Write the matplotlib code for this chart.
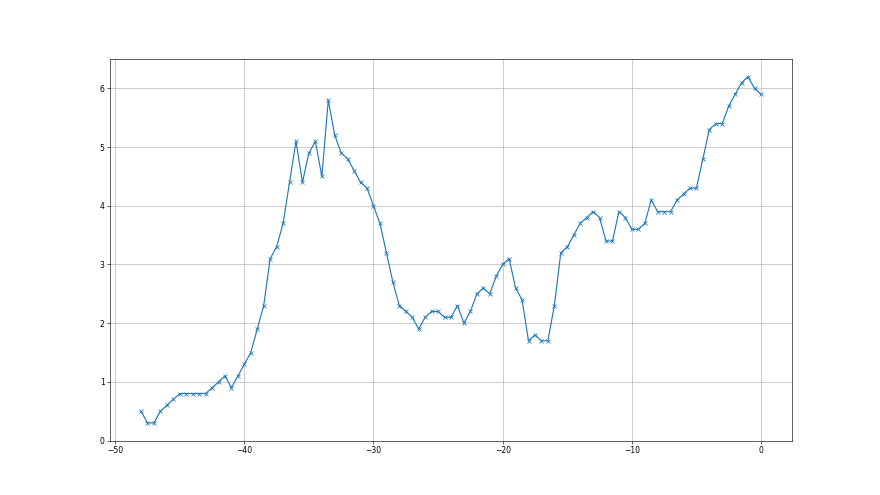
import numpy as np
import matplotlib
matplotlib.use("Agg")
import matplotlib.pyplot as plt

# x positions: -48 to 0 in steps of 0.5
x = np.arange(-48, 0.5, 0.5)

y = [
    0.5, 0.3, 0.3, 0.5, 0.6, 0.7, 0.8, 0.8, 0.8, 0.8,
    0.8, 0.9, 1.0, 1.1, 0.9, 1.1, 1.3, 1.5, 1.9, 2.3,
    3.1, 3.3, 3.7, 4.4, 5.1, 4.4, 4.9, 5.1, 4.5, 5.8,
    5.2, 4.9, 4.8, 4.6, 4.4, 4.3, 4.0, 3.7, 3.2, 2.7,
    2.3, 2.2, 2.1, 1.9, 2.1, 2.2, 2.2, 2.1, 2.1, 2.3,
    2.0, 2.2, 2.5, 2.6, 2.5, 2.8, 3.0, 3.1, 2.6, 2.4,
    1.7, 1.8, 1.7, 1.7, 2.3, 3.2, 3.3, 3.5, 3.7, 3.8,
    3.9, 3.8, 3.4, 3.4, 3.9, 3.8, 3.6, 3.6, 3.7, 4.1,
    3.9, 3.9, 3.9, 4.1, 4.2, 4.3, 4.3, 4.8, 5.3, 5.4,
    5.4, 5.7, 5.9, 6.1, 6.2, 6.0, 5.9,
]

fig, ax = plt.subplots(figsize=(16, 9), dpi=55)
ax.plot(x, y, marker="x")
ax.set_ylim(bottom=0)
ax.grid(True)

fig.savefig("out.png")
